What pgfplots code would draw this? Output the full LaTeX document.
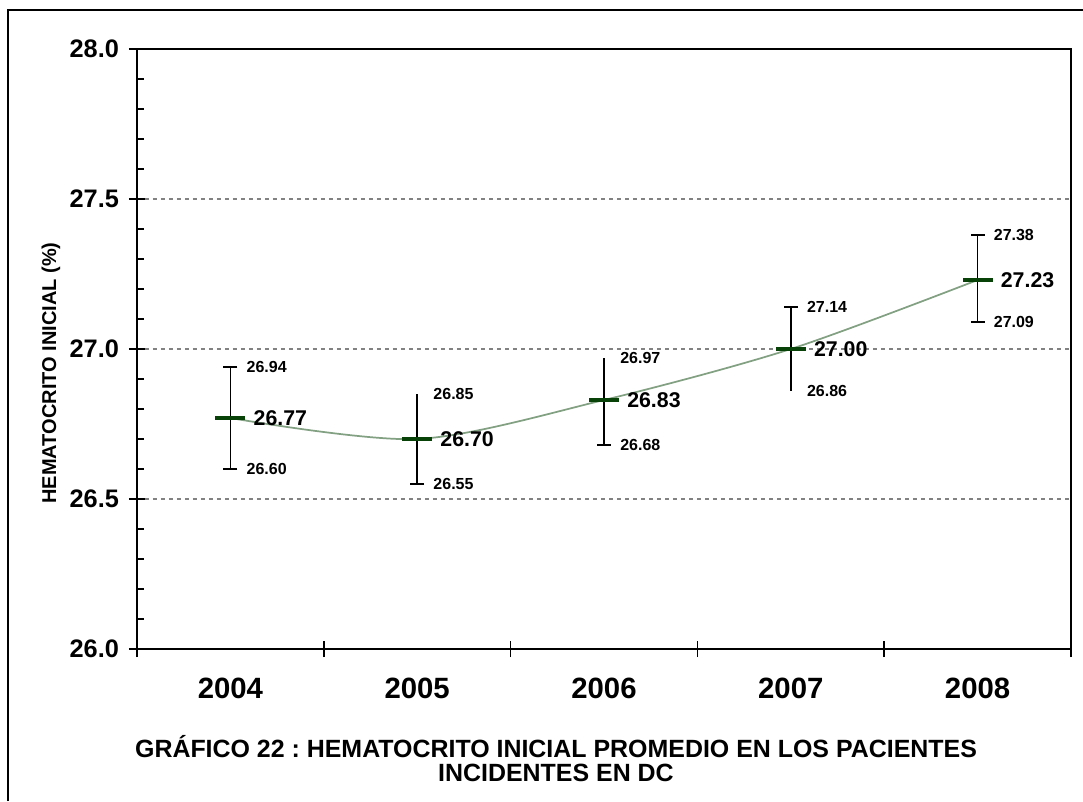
\documentclass[border=0pt]{standalone}
\usepackage{fontspec}
\setmainfont{Liberation Sans}
\usepackage{pgfplots}
\pgfplotsset{compat=1.18}
\usepackage{pgfplotstable}
\frenchspacing

\definecolor{markgreen}{RGB}{8,66,8}
\definecolor{linegreen}{RGB}{130,160,130}
\definecolor{gridgray}{RGB}{130,130,130}

% year index, mean, upper and lower limit
\pgfplotstableread{
x mean hi lo
1 26.77 26.94 26.60
2 26.70 26.85 26.55
3 26.83 26.97 26.68
4 27.00 27.14 26.86
5 27.23 27.38 27.09
}\hct

% error bar ends that carry a cap
\pgfplotstableread{
x y
1 26.94
4 27.14
5 27.38
1 26.60
2 26.55
3 26.68
5 27.09
}\caps

\begin{document}
\begin{tikzpicture}
\useasboundingbox (-102.75pt,-114pt) rectangle (709.5pt,486.75pt);
\draw[line width=0.9pt] (-96.75pt,-114pt) -- (-96.75pt,479.25pt) -- (709.5pt,479.25pt);
\begin{axis}[
  at={(0,0)},anchor=south west,
  scale only axis,width=700.5pt,height=450pt,
  xmin=0.5,xmax=5.5,ymin=26,ymax=28,
  xtick={0.5,1.5,...,5.5},
  xticklabels={2004,2005,2006,2007,2008},
  x tick label as interval,
  ytick={26,26.5,...,28},
  minor y tick num=4,
  tick pos=left,
  tick align=center,
  major tick length=12pt,
  minor tick length=5pt,
  minor y tick style={xshift=2.5pt},
  tick style={black,line width=1.2pt},
  axis line style={black,line width=1.5pt},
  ymajorgrids,
  major grid style={gridgray,line width=1.1pt,dash pattern=on 3pt off 3pt},
  /pgf/number format/assume math mode=true,
  yticklabel={\pgfmathprintnumber[fixed,fixed zerofill,precision=1]{\tick}},
  yticklabel style={font=\bfseries\fontsize{19}{21}\selectfont,anchor=east,xshift=-4pt},
  xticklabel style={font=\bfseries\fontsize{22}{24}\selectfont,yshift=-12pt},
  ylabel={HEMATOCRITO INICIAL (\%)},
  every axis y label/.style={at={(axis description cs:-0.092,0.46)},rotate=90,anchor=center,
    font=\bfseries\fontsize{15}{17}\selectfont},
  clip=false,
]
\addplot[linegreen,line width=1.3pt,smooth,mark=none] table[x=x,y=mean] {\hct};
\addplot[draw=none,mark=none,
  error bars/.cd,y dir=both,y explicit,error mark=none,
  error bar style={black,line width=1.3pt}]
  table[x=x,y=mean,
    y error plus expr=\thisrow{hi}-\thisrow{mean},
    y error minus expr=\thisrow{mean}-\thisrow{lo}] {\hct};
\addplot[only marks,mark=-,mark size=5.25pt,mark options={black,line width=1.3pt}]
  table[x=x,y=y] {\caps};
\addplot[only marks,mark=-,mark size=11.25pt,mark options={markgreen,line width=3pt}]
  table[x=x,y=mean] {\hct};
% value labels
\addplot[draw=none,mark=none,point meta=explicit,
  nodes near coords={\pgfmathprintnumber[fixed,fixed zerofill,precision=2]{\pgfplotspointmeta}},
  every node near coord/.style={anchor=west,inner sep=0pt,xshift=12pt,
    font=\bfseries\fontsize{12}{14}\selectfont}]
  table[x=x,y=hi,meta=hi] {\hct};
\addplot[draw=none,mark=none,point meta=explicit,
  nodes near coords={\pgfmathprintnumber[fixed,fixed zerofill,precision=2]{\pgfplotspointmeta}},
  every node near coord/.style={anchor=west,inner sep=0pt,xshift=12pt,
    font=\bfseries\fontsize{12}{14}\selectfont}]
  table[x=x,y=lo,meta=lo] {\hct};
\addplot[draw=none,mark=none,point meta=explicit,
  nodes near coords={\pgfmathprintnumber[fixed,fixed zerofill,precision=2]{\pgfplotspointmeta}},
  every node near coord/.style={anchor=west,inner sep=0pt,xshift=17.25pt,
    font=\bfseries\fontsize{16}{18}\selectfont}]
  table[x=x,y=mean,meta=mean] {\hct};
\end{axis}
\node[font=\bfseries\fontsize{18.7}{21}\selectfont] at (314.25pt,-73.5pt)
  {GRÁFICO 22 : HEMATOCRITO INICIAL PROMEDIO EN LOS PACIENTES};
\node[font=\bfseries\fontsize{18.7}{21}\selectfont] at (314.25pt,-93pt)
  {INCIDENTES EN DC};
\end{tikzpicture}
\end{document}
